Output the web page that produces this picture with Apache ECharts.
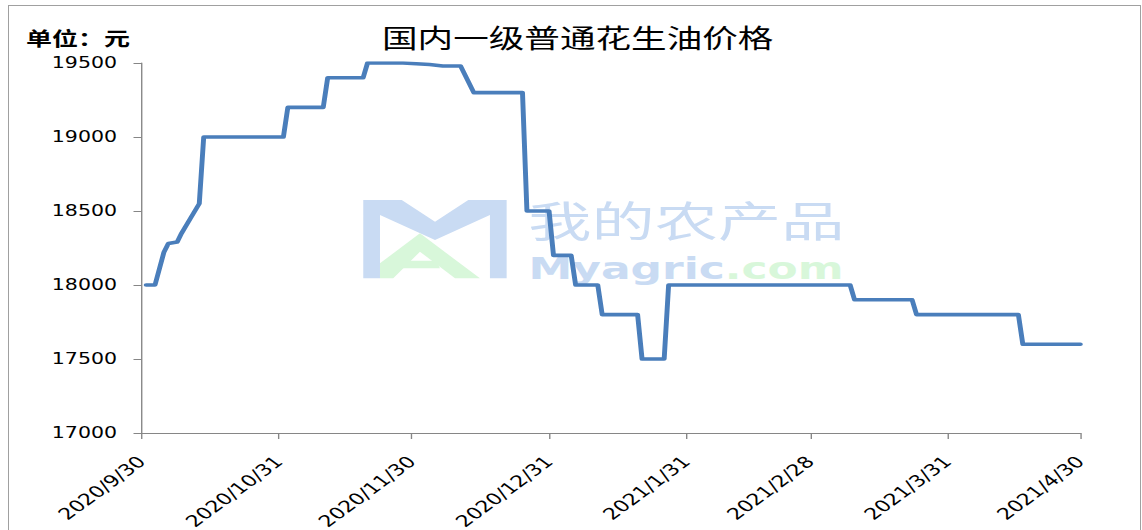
<!DOCTYPE html>
<html>
<head>
<meta charset="utf-8">
<script src="https://cdn.jsdelivr.net/npm/echarts@6/dist/echarts.min.js"></script>
<style>
  html, body { margin: 0; padding: 0; background: #fff; overflow: hidden; }
  #chart { position: absolute; left: 0; top: 0; width: 834px; height: 530px;
           transform: scaleX(1.3693); transform-origin: 0 0; }
  #frame { position: absolute; left: 8px; top: 5px; width: 1131px; height: 540px;
           border: 1px solid #a0a0a0; pointer-events: none; }
</style>
</head>
<body>
<div id="chart"></div>
<div id="frame"></div>
<script>
// price of first-grade peanut oil, yuan/ton
const dates = [
  "2020-10-01", "2020-10-03", "2020-10-05", "2020-10-06", "2020-10-08", "2020-10-09",
  "2020-10-11", "2020-10-13", "2020-10-14", "2020-11-01", "2020-11-02", "2020-11-10",
  "2020-11-11", "2020-11-19", "2020-11-20", "2020-11-28", "2020-12-04", "2020-12-07",
  "2020-12-11", "2020-12-14", "2020-12-25", "2020-12-26", "2020-12-31", "2021-01-01",
  "2021-01-05", "2021-01-06", "2021-01-11", "2021-01-12", "2021-01-20", "2021-01-21",
  "2021-01-26", "2021-01-27", "2021-03-09", "2021-03-10", "2021-03-23", "2021-03-24",
  "2021-04-16", "2021-04-17", "2021-04-30"
];
const prices = [
  18000, 18000, 18220, 18280, 18290, 18350,
  18450, 18550, 19000, 19000, 19200, 19200,
  19400, 19400, 19500, 19500, 19490, 19480,
  19480, 19300, 19300, 18500, 18500, 18200,
  18200, 18000, 18000, 17800, 17800, 17500,
  17500, 18000, 18000, 17900, 17900, 17800,
  17800, 17600, 17600
];
const tickDates = [
  "2020-09-30", "2020-10-31", "2020-11-30", "2020-12-31",
  "2021-01-31", "2021-02-28", "2021-03-31", "2021-04-30"
];
const title = "国内一级普通花生油价格";
const unitLabel = "单位：元";

const ts = (s) => {
  const [y, m, d] = s.split("-").map(Number);
  return new Date(y, m - 1, d).getTime();
};
const fmtDate = (v) => {
  const d = new Date(v);
  return d.getFullYear() + "/" + (d.getMonth() + 1) + "/" + d.getDate();
};

const chart = echarts.init(document.getElementById("chart"), null, { renderer: "svg" });
const ticks = tickDates.map(ts);

chart.setOption({
  animation: false,
  title: [
    {
      text: title, left: 274, top: 19,
      textStyle: { fontFamily: "Noto Sans CJK SC", fontSize: 26, fontWeight: "normal", color: "#000" }
    },
    {
      text: unitLabel, left: 14, top: 24,
      textStyle: { fontFamily: "Noto Sans CJK SC", fontSize: 19, fontWeight: "bold", color: "#000" }
    }
  ],
  grid: { left: 103.5, right: 45, top: 63, bottom: 97, outerBoundsMode: "none", containLabel: false },
  xAxis: {
    type: "value",
    min: ticks[0],
    max: ticks[ticks.length - 1],
    axisLine: { lineStyle: { color: "#868686", width: 1 } },
    axisTick: { customValues: ticks, length: 6, lineStyle: { color: "#868686" } },
    axisLabel: {
      customValues: ticks,
      formatter: (v) => fmtDate(v),
      rotate: 45,
      margin: 26,
      hideOverlap: false,
      fontFamily: "DejaVu Sans",
      fontSize: 16,
      color: "#000"
    },
    splitLine: { show: false }
  },
  yAxis: {
    type: "value",
    min: 17000,
    max: 19500,
    interval: 500,
    axisLine: { show: true, lineStyle: { color: "#868686", width: 1 } },
    axisTick: { show: true, length: 6, lineStyle: { color: "#868686" } },
    axisLabel: {
      margin: 18, fontFamily: "DejaVu Sans", fontSize: 15, color: "#000",
      formatter: (v) => String(v)
    },
    splitLine: { show: false }
  },
  graphic: [
    {
      type: "polygon", z: 0, silent: true,
      shape: { points: [[265.3, 200], [293.4, 200], [317.7, 221.7], [342, 200], [370, 200], [370, 278.3],
                        [357.8, 278.3], [357.8, 215], [317.7, 240], [277.5, 215], [277.5, 278.3], [265.3, 278.3]] },
      style: { fill: "#c9dbf3" }
    },
    {
      type: "polygon", z: 0, silent: true,
      shape: { points: [[277.5, 278.3], [277.5, 263.3], [306.7, 233.3], [350.5, 278.3], [332.3, 278.3],
                        [306.7, 251.7], [287.2, 278.3]] },
      style: { fill: "#d8f7da" }
    },
    {
      type: "polygon", z: 0, silent: true,
      shape: { points: [[293.4, 260.7], [318.9, 260.7], [321.3, 268.3], [289.7, 268.3]] },
      style: { fill: "#d8f7da" }
    },
    {
      type: "text", z: 0, silent: true, x: 385.8, y: 219, scaleX: 1.1,
      style: {
        text: "我的农产品", fill: "#c9dbf3", fontSize: 42, fontFamily: "Noto Sans CJK SC",
        verticalAlign: "middle"
      }
    },
    {
      type: "text", z: 0, silent: true, x: 386, y: 269, scaleX: 1.07,
      style: {
        text: "{a|Myagric}{b|.com}", verticalAlign: "middle",
        rich: {
          a: { fill: "#c9dbf3", fontSize: 30, fontWeight: "bold", fontFamily: "DejaVu Sans" },
          b: { fill: "#d8f7da", fontSize: 30, fontWeight: "bold", fontFamily: "DejaVu Sans" }
        }
      }
    }
  ],
  series: [
    {
      type: "line",
      z: 2,
      data: dates.map((d, i) => [ts(d), prices[i]]),
      showSymbol: false,
      lineStyle: { color: "#4a7ebb", width: 3.6, join: "round", cap: "round" }
    }
  ]
});
</script>
</body>
</html>
